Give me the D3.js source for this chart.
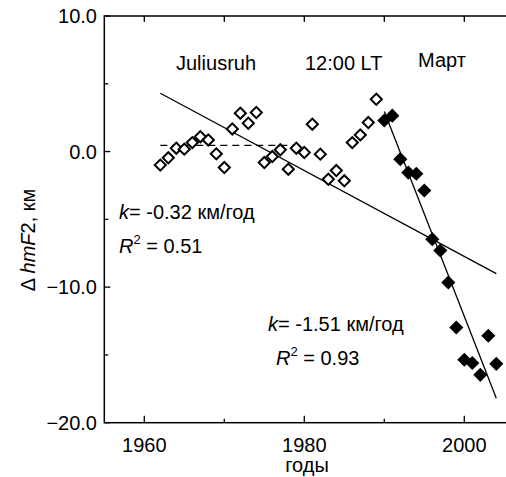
<!DOCTYPE html>
<html>
<head>
<meta charset="utf-8">
<script src="https://cdn.jsdelivr.net/npm/d3@7"></script>
<style>
  body { margin: 0; background: #fff; }
  text { font-family: "Liberation Sans", Arial, Helvetica, sans-serif; fill: #000; }
</style>
</head>
<body>
<script>
// open diamonds, 1962-1989
const openYears = d3.range(1962, 1990);
const openVals = [-1.0, -0.46, 0.25, 0.18, 0.66, 1.1, 0.86, -0.17, -1.18, 1.67,
  2.83, 2.09, 2.88, -0.81, -0.37, 0.13, -1.3, 0.25, -0.07, 2.02,
  -0.19, -2.04, -1.4, -2.16, 0.66, 1.23, 2.14, 3.86];

// filled diamonds, 1990-2004
const fillYears = d3.range(1990, 2005);
const fillVals = [2.29, 2.65, -0.56, -1.55, -1.64, -2.87, -6.46, -7.3, -9.66,
  -12.98, -15.36, -15.6, -16.47, -13.59, -15.66];

// trend lines
const trend1Years = [1962, 2004], trend1Vals = [4.3, -9.0];
const trend2Years = [1990, 2004], trend2Vals = [2.95, -18.2];
const meanYears = [1962, 1979], meanVal = 0.45;

const yTicks = [-20, -10, 0, 10], yMinor = [-15, -5, 5];
const xTicks = [1960, 1980, 2000], xMinor = [1970, 1990];

const W = 506, H = 477;
const svg = d3.select("body").append("svg")
  .attr("width", W).attr("height", H);

const x = d3.scaleLinear().domain([1955, 2006]).range([104.3, 512.3]);
const y = d3.scaleLinear().domain([-20, 10]).range([422.7, 16]);

const x0 = x.range()[0], x1 = x.range()[1];
const y0 = y.range()[0], y1 = y.range()[1];

// frame
svg.append("rect")
  .attr("x", x0).attr("y", y1)
  .attr("width", x1 - x0).attr("height", y0 - y1)
  .attr("fill", "none").attr("stroke", "#000").attr("stroke-width", 1.5);

const ticks = svg.append("g").attr("stroke", "#000").attr("stroke-width", 1.3);

// left + right y ticks
yTicks.forEach(v => {
  ticks.append("line").attr("x1", x0).attr("x2", x0 + 6).attr("y1", y(v)).attr("y2", y(v));
  ticks.append("line").attr("x1", x1).attr("x2", x1 - 6).attr("y1", y(v)).attr("y2", y(v));
});
yMinor.forEach(v => {
  ticks.append("line").attr("x1", x0).attr("x2", x0 + 4).attr("y1", y(v)).attr("y2", y(v));
  ticks.append("line").attr("x1", x1).attr("x2", x1 - 4).attr("y1", y(v)).attr("y2", y(v));
});
// bottom + top x ticks
xTicks.forEach(v => {
  ticks.append("line").attr("x1", x(v)).attr("x2", x(v)).attr("y1", y0).attr("y2", y0 - 7);
  ticks.append("line").attr("x1", x(v)).attr("x2", x(v)).attr("y1", y1).attr("y2", y1 + 6);
});
xMinor.forEach(v => {
  ticks.append("line").attr("x1", x(v)).attr("x2", x(v)).attr("y1", y0).attr("y2", y0 - 4);
  ticks.append("line").attr("x1", x(v)).attr("x2", x(v)).attr("y1", y1).attr("y2", y1 + 6);
});

// tick labels
svg.selectAll(".ylab").data(yTicks).enter().append("text")
  .attr("x", 97).attr("y", d => y(d) + 7)
  .attr("text-anchor", "end").attr("font-size", 20)
  .text(d => d3.format(".1f")(d));

svg.selectAll(".xlab").data(xTicks).enter().append("text")
  .attr("x", d => x(d)).attr("y", 452)
  .attr("text-anchor", "middle").attr("font-size", 20)
  .text(d => d);

// axis titles
svg.append("text")
  .attr("x", 307).attr("y", 472)
  .attr("text-anchor", "middle").attr("font-size", 20)
  .text("годы");

const yt = svg.append("text")
  .attr("transform", "translate(35,240) rotate(-90)")
  .attr("text-anchor", "middle").attr("font-size", 20);
yt.append("tspan").text("Δ ");
yt.append("tspan").attr("font-style", "italic").text("hmF");
yt.append("tspan").text("2, км");

// lines
const line = d3.line().x(d => x(d[0])).y(d => y(d[1]));
svg.append("path")
  .attr("d", line(d3.zip(trend1Years, trend1Vals)))
  .attr("fill", "none").attr("stroke", "#000").attr("stroke-width", 1.3);
svg.append("path")
  .attr("d", line(d3.zip(trend2Years, trend2Vals)))
  .attr("fill", "none").attr("stroke", "#000").attr("stroke-width", 1.3);
svg.append("path")
  .attr("d", line(meanYears.map(v => [v, meanVal])))
  .attr("fill", "none").attr("stroke", "#000").attr("stroke-width", 1.3)
  .attr("stroke-dasharray", "7,5");

// diamonds
const diamond = d3.symbol().type(d3.symbolSquare).size(62);
svg.append("g").selectAll("path")
  .data(d3.zip(openYears, openVals)).enter().append("path")
  .attr("d", diamond)
  .attr("transform", d => `translate(${x(d[0])},${y(d[1])}) rotate(45)`)
  .attr("fill", "#fff").attr("stroke", "#000").attr("stroke-width", 2);

svg.append("g").selectAll("path")
  .data(d3.zip(fillYears, fillVals)).enter().append("path")
  .attr("d", d3.symbol().type(d3.symbolSquare).size(100))
  .attr("transform", d => `translate(${x(d[0])},${y(d[1])}) rotate(45)`)
  .attr("fill", "#000");

// annotations
const t = (xx, yy, s) => svg.append("text").attr("x", xx).attr("y", yy)
  .attr("font-size", 20).text(s);
t(176, 70, "Juliusruh");
t(305, 70, "12:00 LT");
t(418, 67, "Март");

function kText(xx, yy, val) {
  const g = svg.append("text").attr("x", xx).attr("y", yy).attr("font-size", 20);
  g.append("tspan").attr("font-style", "italic").text("k");
  g.append("tspan").text("= " + val + " км/год");
}
function rText(xx, yy, val) {
  const g = svg.append("text").attr("x", xx).attr("y", yy).attr("font-size", 20);
  g.append("tspan").attr("font-style", "italic").text("R");
  g.append("tspan").attr("font-size", 13).attr("dy", -9).text("2");
  g.append("tspan").attr("dy", 9).text(" = " + val);
}
kText(119, 219, "-0.32");
rText(119, 253, "0.51");
kText(268, 331, "-1.51");
rText(276, 365, "0.93");
</script>
</body>
</html>
